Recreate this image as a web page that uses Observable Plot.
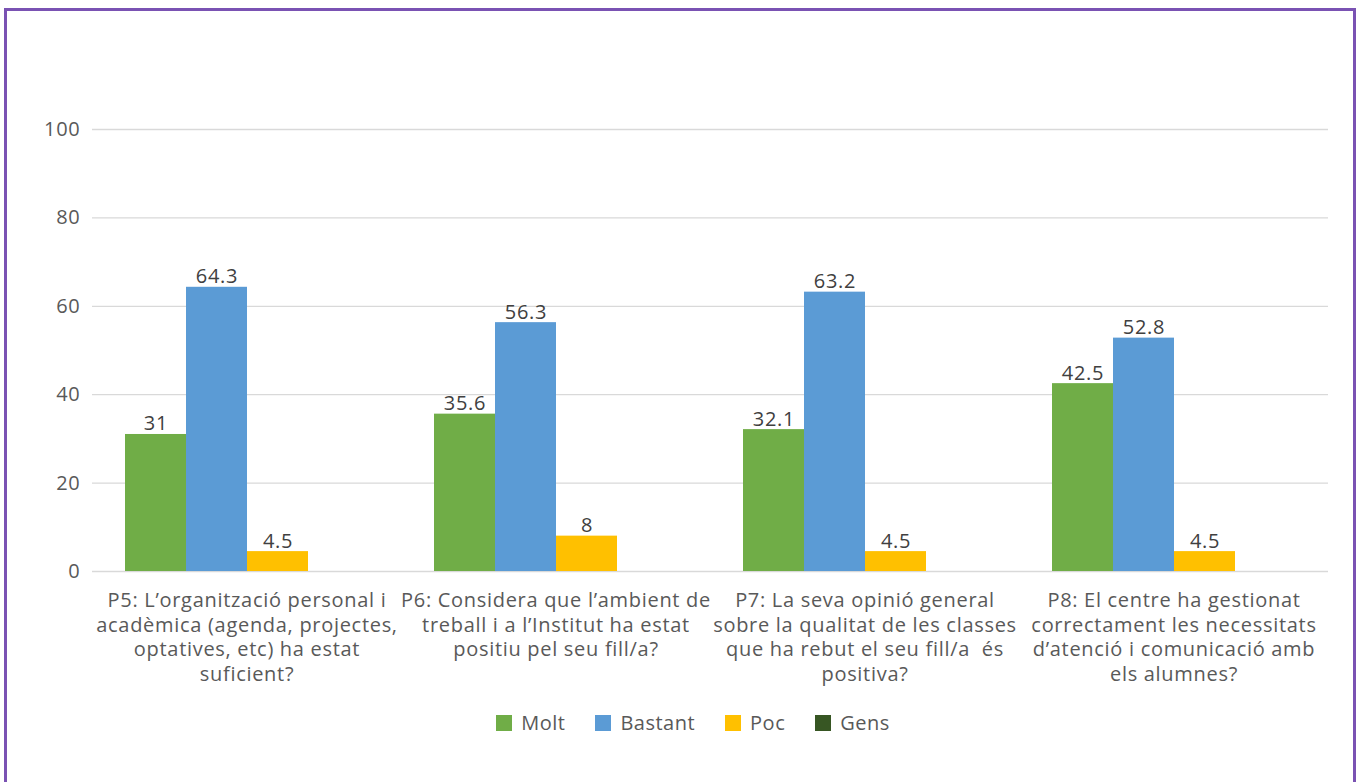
<!DOCTYPE html>
<html><head><meta charset="utf-8">
<script src="https://cdn.jsdelivr.net/npm/d3@7"></script>
<script src="https://cdn.jsdelivr.net/npm/@observablehq/plot@0.6"></script>
<style>
body{margin:0;background:#fff;font-family:"Open Sans",sans-serif;}
#wrap{position:relative;width:1362px;height:782px;overflow:hidden;background:#fff;}
#chart{position:absolute;left:0;top:0;}
#chart svg text{letter-spacing:0.7px;}
#frame{position:absolute;left:4px;top:8px;width:1352px;height:800px;border:3px solid #7a52b3;box-sizing:border-box;pointer-events:none;}
#legend{position:absolute;top:709px;left:12px;width:1362px;display:flex;justify-content:center;gap:30px;font-size:20px;letter-spacing:0.5px;color:#595959;}
#legend .it{display:flex;align-items:center;gap:9px;}
#legend .sw{width:16px;height:16px;display:inline-block;}
</style>
</head><body>
<div id="wrap"><div id="chart"></div><div id="legend"></div><div id="frame"></div></div>
<script>
const categories = ["P5","P6","P7","P8"];
const categoryLabels = [
  "P5: L’organització personal i\nacadèmica (agenda, projectes,\noptatives, etc) ha estat\nsuficient?",
  "P6: Considera que l’ambient de\ntreball i a l’Institut ha estat\npositiu pel seu fill/a?",
  "P7: La seva opinió general\nsobre la qualitat de les classes\nque ha rebut el seu fill/a  és\npositiva?",
  "P8: El centre ha gestionat\ncorrectament les necessitats\nd’atenció i comunicació amb\nels alumnes?"
];
const series = ["Molt","Bastant","Poc","Gens"];
const colors = ["#70ad47","#5b9bd5","#ffc000","#375623"];
const molt = [31, 35.6, 32.1, 42.5];
const bastant = [64.3, 56.3, 63.2, 52.8];
const poc = [4.5, 8, 4.5, 4.5];
const gens = [0, 0, 0, 0];
const yTicks = [0, 20, 40, 60, 80, 100];

const valuesBySeries = [molt, bastant, poc, gens];
const data = [];
categories.forEach((c, i) => series.forEach((s, j) => data.push({cat: c, series: s, value: valuesBySeries[j][i]})));
const labelData = categories.map((c, i) => ({cat: c, label: categoryLabels[i]}));

const plot = Plot.plot({
  width: 1362,
  height: 782,
  marginLeft: 91,
  marginRight: 34,
  marginTop: 129,
  marginBottom: 211,
  style: {fontFamily: "Open Sans", fontSize: "20px", background: "transparent"},
  fx: {domain: categories, padding: 0, axis: null},
  x: {domain: series, paddingInner: 0, paddingOuter: 0.5, axis: null},
  y: {domain: [0, 100], axis: null},
  color: {domain: series, range: colors},
  marks: [
    Plot.ruleY(yTicks, {stroke: "#d9d9d9", strokeWidth: 1.3}),
    Plot.axisY({ticks: yTicks, tickSize: 0, tickPadding: 12, label: null, fontSize: 20, fill: "#595959", tickFormat: d => String(d)}),
    Plot.barY(data, {fx: "cat", x: "series", y: "value", fill: "series"}),
    Plot.text(data.filter(d => d.value > 0), {fx: "cat", x: "series", y: "value", text: d => String(d.value), lineAnchor: "bottom", dy: -4, fontSize: 20, fill: "#404040"}),
    Plot.text(labelData, {fx: "cat", frameAnchor: "bottom", text: "label", lineAnchor: "top", dy: 18, lineHeight: 1.23, fontSize: 20, fill: "#595959"})
  ]
});
document.getElementById("chart").appendChild(plot);

const legend = document.getElementById("legend");
series.forEach((s, i) => {
  const it = document.createElement("div");
  it.className = "it";
  const sw = document.createElement("span");
  sw.className = "sw";
  sw.style.background = colors[i];
  const t = document.createElement("span");
  t.textContent = s;
  it.appendChild(sw); it.appendChild(t);
  legend.appendChild(it);
});
</script>
</body></html>
